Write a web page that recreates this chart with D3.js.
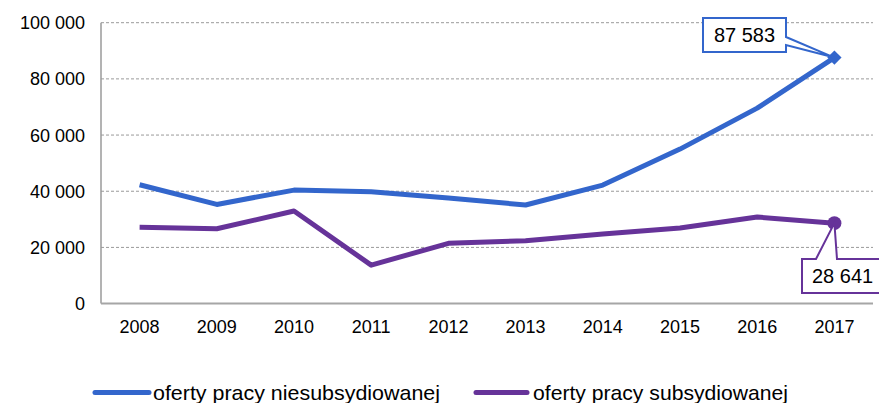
<!DOCTYPE html>
<html>
<head>
<meta charset="utf-8">
<script src="https://cdn.jsdelivr.net/npm/d3@7"></script>
<style>
  html, body { margin: 0; padding: 0; background: #fff; }
  svg { display: block; font-family: "Liberation Sans", Arial, sans-serif; }
</style>
</head>
<body>
<svg id="chart" width="879" height="403"></svg>
<script>
// Job offers by year
const years = ["2008", "2009", "2010", "2011", "2012", "2013", "2014", "2015", "2016", "2017"];
const unsubsidised = [42300, 35300, 40400, 39800, 37600, 35100, 42200, 55000, 69600, 87583];
const subsidised   = [27150, 26650, 32950, 13700, 21450, 22400, 24800, 26900, 30800, 28641];
const yTicks = [0, 20000, 40000, 60000, 80000, 100000];
const seriesNames = ["oferty pracy niesubsydiowanej", "oferty pracy subsydiowanej"];
const colors = ["#3366cc", "#663399"];

const W = 879, H = 403;
const margin = { top: 22.7, right: 6, bottom: 99.4, left: 101 };
const svg = d3.select("#chart");

const x = d3.scaleBand().domain(years).range([margin.left, W - margin.right]);
const y = d3.scaleLinear().domain([0, 100000]).range([H - margin.bottom, margin.top]);
const cx = d => x(d) + x.bandwidth() / 2;

const fmt = v => d3.format(",")(v).replace(/,/g, " ");

// horizontal dashed gridlines
svg.append("g").selectAll("line")
  .data(yTicks.filter(t => t > 0))
  .join("line")
  .attr("x1", margin.left).attr("x2", W - margin.right)
  .attr("y1", d => y(d)).attr("y2", d => y(d))
  .attr("stroke", "#9a9a9a").attr("stroke-width", 1)
  .attr("stroke-dasharray", "3,2");

// y axis labels
svg.append("g").selectAll("text")
  .data(yTicks)
  .join("text")
  .attr("x", 85).attr("y", d => y(d))
  .attr("dy", "0.36em")
  .attr("text-anchor", "end")
  .attr("font-size", 18).attr("fill", "#000")
  .text(d => fmt(d));

// axis lines
svg.append("line")
  .attr("x1", margin.left).attr("x2", margin.left)
  .attr("y1", y(100000)).attr("y2", y(0))
  .attr("stroke", "#9a9a9a").attr("stroke-width", 1.5);
svg.append("line")
  .attr("x1", margin.left).attr("x2", W - margin.right)
  .attr("y1", y(0)).attr("y2", y(0))
  .attr("stroke", "#a6a6a6").attr("stroke-width", 2);

// x axis labels
svg.append("g").selectAll("text")
  .data(years)
  .join("text")
  .attr("x", d => cx(d)).attr("y", 333)
  .attr("text-anchor", "middle")
  .attr("font-size", 18).attr("fill", "#000")
  .text(d => d);

// series lines
const line = d3.line().x((d, i) => cx(years[i])).y(d => y(d));
[unsubsidised, subsidised].forEach((vals, k) => {
  svg.append("path")
    .datum(vals)
    .attr("d", line)
    .attr("fill", "none")
    .attr("stroke", colors[k])
    .attr("stroke-width", 5)
    .attr("stroke-linejoin", "round");
});

// last-point markers
const last = years.length - 1;
const px = cx(years[last]);
const pyA = y(unsubsidised[last]);
const pyB = y(subsidised[last]);
svg.append("path")
  .attr("d", d3.symbol(d3.symbolDiamond2, 130)())
  .attr("transform", `translate(${px},${pyA})`)
  .attr("fill", colors[0]);
svg.append("circle")
  .attr("cx", px).attr("cy", pyB).attr("r", 7)
  .attr("fill", colors[1]);

// callout for the unsubsidised value
{
  const bx0 = 703, bx1 = 786, by0 = 18, by1 = 52;
  svg.append("path")
    .attr("d", `M${bx0},${by0} H${bx1} V37 L${px},${pyA} L${bx1},45 V${by1} H${bx0} Z`)
    .attr("fill", "#fff").attr("stroke", colors[0]).attr("stroke-width", 2)
    .attr("stroke-linejoin", "miter");
  svg.append("text")
    .attr("x", (bx0 + bx1) / 2).attr("y", (by0 + by1) / 2)
    .attr("dy", "0.36em").attr("text-anchor", "middle")
    .attr("font-size", 20).attr("fill", "#000")
    .text(fmt(unsubsidised[last]));
}

// callout for the subsidised value
{
  const bx0 = 802, bx1 = 884, by0 = 259, by1 = 293;
  svg.append("path")
    .attr("d", `M${bx0},${by0} H816 L${px},${pyB} L837,${by0} H${bx1} V${by1} H${bx0} Z`)
    .attr("fill", "#fff").attr("stroke", colors[1]).attr("stroke-width", 2)
    .attr("stroke-linejoin", "miter");
  svg.append("text")
    .attr("x", 812).attr("y", (by0 + by1) / 2)
    .attr("dy", "0.36em").attr("text-anchor", "start")
    .attr("font-size", 20).attr("fill", "#000")
    .text(fmt(subsidised[last]));
}

// legend
const legendItems = [
  { x0: 95, x1: 149, tx: 153, len: 287 },
  { x0: 476, x1: 527, tx: 533, len: 255 }
];
legendItems.forEach((it, k) => {
  svg.append("line")
    .attr("x1", it.x0).attr("x2", it.x1)
    .attr("y1", 392.5).attr("y2", 392.5)
    .attr("stroke", colors[k]).attr("stroke-width", 5)
    .attr("stroke-linecap", "round");
  svg.append("text")
    .attr("x", it.tx).attr("y", 399.5)
    .attr("font-size", 21).attr("fill", "#000")
    .attr("textLength", it.len).attr("lengthAdjust", "spacingAndGlyphs")
    .text(seriesNames[k]);
});
</script>
</body>
</html>
